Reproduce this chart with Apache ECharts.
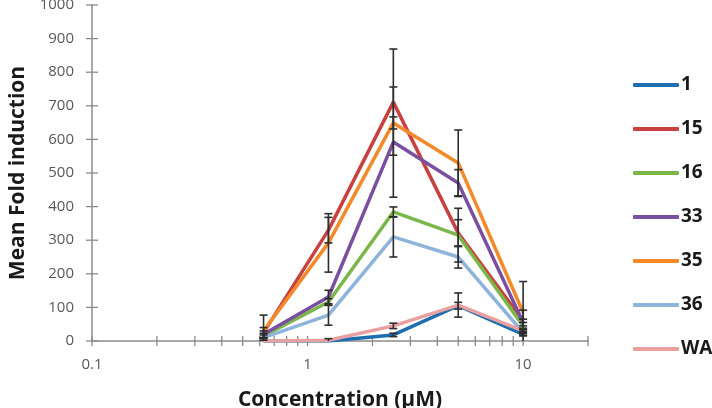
<!DOCTYPE html>
<html>
<head>
<meta charset="utf-8">
<script src="https://cdn.jsdelivr.net/npm/echarts@6/dist/echarts.min.js"></script>
<style>
  html, body { margin: 0; padding: 0; background: #fff; }
  #chart { width: 712px; height: 408px; }
</style>
</head>
<body>
<div id="chart"></div>
<script>
// concentrations (uM)
const conc = [0.625, 1.25, 2.5, 5, 10];
const names = ['1', '15', '16', '33', '35', '36', 'WA'];
const colors = ['#1f6fb0', '#c8413f', '#7ab648', '#7b4fa0', '#f5892a', '#8fb4dc', '#e9a0a0'];

// mean fold induction
const s1 = [0, 0, 18, 105, 20];
const s15 = [25, 330, 711, 321, 60];
const s16 = [15, 116, 384, 315, 45];
const s33 = [20, 131, 592, 470, 55];
const s35 = [30, 292, 649, 530, 85];
const s36 = [10, 77, 310, 250, 25];
const sWA = [0, 2, 45, 107, 30];

// error (+/-)
const e1 = [0, 0, 5, 10, 5];
const e15 = [15, 38, 158, 40, 32];
const e16 = [8, 10, 15, 80, 10];
const e33 = [10, 20, 164, 40, 10];
const e35 = [47, 87, 18, 98, 92];
const e36 = [8, 30, 60, 33, 8];
const eWA = [0, 5, 8, 36, 8];

const xTicks = [0.1, 0.2, 0.3, 0.4, 0.5, 0.6, 0.7, 0.8, 0.9, 1, 2, 3, 4, 5, 6, 7, 8, 9, 10, 20];
const yTicks = [0, 100, 200, 300, 400, 500, 600, 700, 800, 900, 1000];

const means = [s1, s15, s16, s33, s35, s36, sWA];
const errs = [e1, e15, e16, e33, e35, e36, eWA];

const series = [];
means.forEach((m, i) => {
  series.push({
    name: names[i],
    type: 'line',
    data: conc.map((c, j) => [c, m[j]]),
    symbol: 'none',
    lineStyle: { width: 3.5, color: colors[i] },
    itemStyle: { color: colors[i] },
    z: 2 + i * 0.1
  });
});

// error bars
const errData = [];
means.forEach((m, i) => {
  conc.forEach((c, j) => {
    if (errs[i][j] > 0) errData.push([c, m[j] - errs[i][j], m[j] + errs[i][j]]);
  });
});
series.push({
  type: 'custom',
  data: errData,
  clip: true,
  z: 5,
  renderItem: function (params, api) {
    const x = api.value(0);
    const p1 = api.coord([x, api.value(2)]);
    const p2 = api.coord([x, api.value(1)]);
    const w = 4;
    const st = { stroke: '#2e2e2e', lineWidth: 1.6 };
    return {
      type: 'group',
      children: [
        { type: 'line', shape: { x1: p1[0], y1: p1[1], x2: p2[0], y2: p2[1] }, style: st },
        { type: 'line', shape: { x1: p1[0] - w, y1: p1[1], x2: p1[0] + w, y2: p1[1] }, style: st },
        { type: 'line', shape: { x1: p2[0] - w, y1: p2[1], x2: p2[0] + w, y2: p2[1] }, style: st }
      ]
    };
  }
});

// axis ticks crossing the axis lines
series.push({
  type: 'custom',
  data: xTicks.map(v => [v, 0]),
  z: 1,
  silent: true,
  renderItem: function (params, api) {
    const p = api.coord([api.value(0), api.value(1)]);
    return { type: 'line', shape: { x1: p[0], y1: p[1] - 5, x2: p[0], y2: p[1] + 5 }, style: { stroke: '#8c8c8c', lineWidth: 1.3 } };
  }
});
series.push({
  type: 'custom',
  data: yTicks.map(v => [0.1, v]),
  z: 1,
  silent: true,
  renderItem: function (params, api) {
    const p = api.coord([api.value(0), api.value(1)]);
    return { type: 'line', shape: { x1: p[0] - 6, y1: p[1], x2: p[0] + 6, y2: p[1] }, style: { stroke: '#8c8c8c', lineWidth: 1.3 } };
  }
});

const chart = echarts.init(document.getElementById('chart'));
chart.setOption({
  animation: false,
  grid: { left: 92, right: 124, top: 5, bottom: 67, outerBoundsMode: 'none', containLabel: false },
  legend: {
    data: names,
    orient: 'vertical',
    left: 628,
    top: 69,
    itemWidth: 46,
    itemHeight: 4,
    itemGap: 22,
    icon: 'roundRect',
    textStyle: { fontFamily: 'Open Sans', fontWeight: 'bold', fontSize: 19, color: '#1a1a1a', lineHeight: 22, padding: [0, 0, 0, -3] }
  },
  xAxis: {
    type: 'log',
    logBase: 10,
    min: 0.1,
    max: 20,
    name: 'Concentration (µM)',
    nameLocation: 'middle',
    nameGap: 49,
    nameTextStyle: { fontFamily: 'Open Sans', fontWeight: 'bold', fontSize: 21, color: '#1a1a1a' },
    axisLine: { lineStyle: { color: '#8c8c8c', width: 1.5 } },
    axisTick: { show: false },
    splitLine: { show: false },
    axisLabel: { showMaxLabel: false, margin: 16, fontFamily: 'Open Sans', fontSize: 15, color: '#595959' }
  },
  yAxis: {
    type: 'value',
    min: 0,
    max: 1000,
    interval: 100,
    name: 'Mean Fold induction',
    nameLocation: 'middle',
    nameGap: 60,
    nameTextStyle: { fontFamily: 'Open Sans', fontWeight: 'bold', fontSize: 21, color: '#1a1a1a' },
    axisLine: { show: true, lineStyle: { color: '#8c8c8c', width: 1.5 } },
    axisTick: { show: false },
    splitLine: { show: false },
    axisLabel: { margin: 18, fontFamily: 'Open Sans', fontSize: 15, color: '#595959', formatter: v => String(v) }
  },
  series: series
});
</script>
</body>
</html>
